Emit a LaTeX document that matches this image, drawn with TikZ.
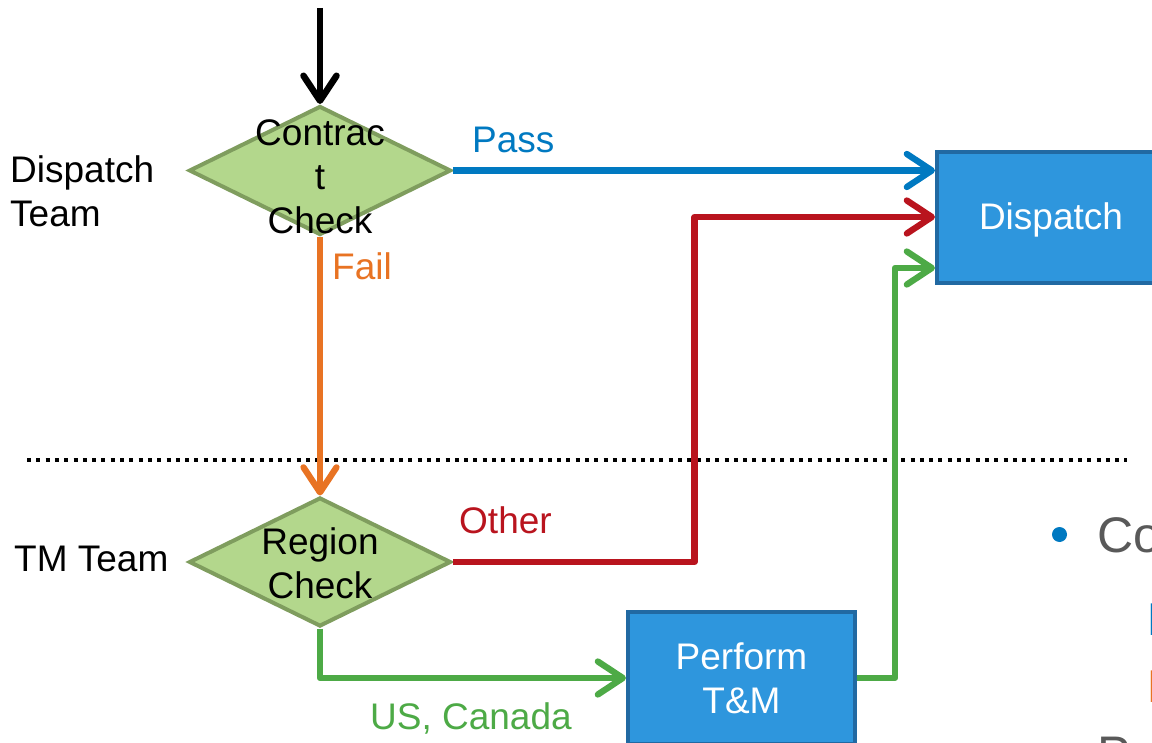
\documentclass[tikz,border=0pt]{standalone}
\usepackage{fontspec}
\setmainfont{Liberation Sans}
\usetikzlibrary{arrows.meta,shapes.geometric}

\definecolor{leafFill}{HTML}{B3D78C}
\definecolor{leafEdge}{HTML}{7F9D5E}
\definecolor{boxFill}{HTML}{2E96DD}
\definecolor{boxEdge}{HTML}{2169A2}
\definecolor{passBlue}{HTML}{0079C1}
\definecolor{failOrange}{HTML}{E87323}
\definecolor{otherRed}{HTML}{B9141E}
\definecolor{usGreen}{HTML}{4DAA46}
\definecolor{noteGray}{HTML}{595959}

\tikzset{
  decision/.style={diamond, draw=leafEdge, fill=leafFill, line width=4pt,
    inner sep=0pt, minimum width=262pt, minimum height=129pt},
  taskbox/.style={rectangle, draw=boxEdge, fill=boxFill, line width=4pt,
    inner sep=0pt},
  bigtext/.style={font=\fontsize{37}{44}\selectfont, inner sep=0pt},
  flow/.style={line width=6.3pt, line join=round,
    -{Straight Barb[length=25pt,width=33pt,round]}},
}

\begin{document}
\begin{tikzpicture}[x=1pt,y=-1pt]
\useasboundingbox (0,0) rectangle (1152,743);
\clip (0,0) rectangle (1152,743);

% lane separator
\draw[line width=3.5pt, dash pattern=on 4pt off 5.3pt] (27,460) -- (1127,460);

% lane labels
\node[bigtext, anchor=north west, align=left] (laneA) at (10,155) {Dispatch\\Team};
\node[bigtext, anchor=base west] (laneB) at (14,571) {TM Team};

% decisions
\node[decision] (cc) at (320,170.5) {};
\node[bigtext, align=center] (cctext) at (320,177) {Contrac\\t\\Check};
\node[decision] (rc) at (320,562) {};
\node[bigtext, align=center] (rctext) at (320,563) {Region\\Check};

% task boxes
\node[taskbox, minimum width=226pt, minimum height=131pt] (disp) at (1050,217.5) {};
\node[bigtext, text=white, anchor=base] (disptext) at (1051,230) {Dispatch};
\node[taskbox, minimum width=227pt, minimum height=132pt] (tm) at (741.5,678) {};
\node[bigtext, text=white, align=center] (tmtext) at (741.5,678) {Perform\\T\&M};

% entry arrow
\coordinate (entry) at (320,8);
\draw[flow, line width=6.5pt, black] (entry) -- (cc.north);

% contract check outcomes
\draw[flow, passBlue] (cc.east) -- (cc.east -| disp.west);
\node[bigtext, text=passBlue, anchor=base west] (passlbl) at (472,153) {Pass};
\draw[flow, failOrange] (cc.south) -- (rc.north);
\node[bigtext, text=failOrange, anchor=base west] (faillbl) at (332,280) {Fail};

% region check outcomes
\coordinate (redturn) at (694.5,217);
\draw[flow, otherRed] (rc.east) -| (redturn) -- (redturn -| disp.west);
\node[bigtext, text=otherRed, anchor=base west] (otherlbl) at (459,533) {Other};
\draw[flow, usGreen] (rc.south) |- (tm.west);
\node[bigtext, text=usGreen, anchor=base west] (uslbl) at (370,729) {US, Canada};
\coordinate (greenturn) at (895,268);
\draw[flow, usGreen] (tm.east) -| (greenturn) -- (greenturn -| disp.west);

% notes at the right edge
\fill[passBlue] (1059.5,534.5) circle (7.5pt);
\node[font=\fontsize{50}{60}\selectfont, text=noteGray, inner sep=0pt, anchor=base west] (note1) at (1097.5,552) {Co};
\node[font=\fontsize{46}{55}\selectfont, text=passBlue, inner sep=0pt, anchor=base west] (note2) at (1147.5,635) {P};
\node[font=\fontsize{46}{55}\selectfont, text=failOrange, inner sep=0pt, anchor=base west] (note3) at (1147.5,702) {F};
\node[font=\fontsize{50}{60}\selectfont, text=noteGray, inner sep=0pt, anchor=base west] (note4) at (1097,771) {P};
\end{tikzpicture}
\end{document}
